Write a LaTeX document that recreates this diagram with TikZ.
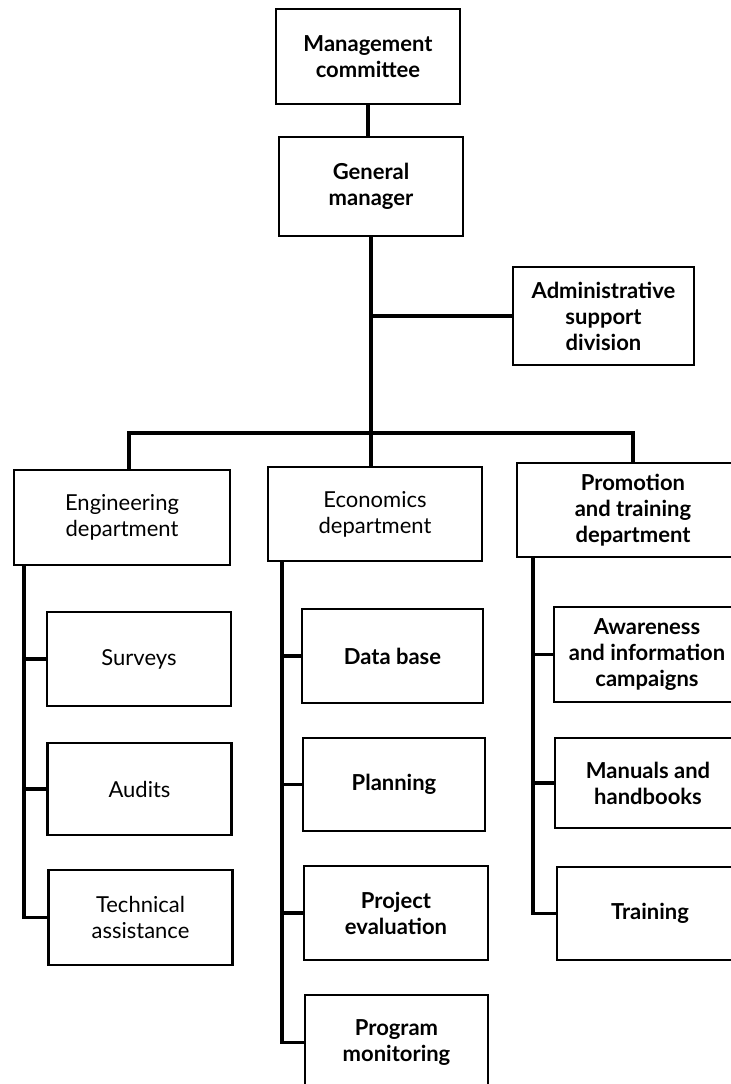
\documentclass[tikz,border=0pt]{standalone}
\usepackage{fontspec}
\setmainfont{Lato}
\begin{document}
\begin{tikzpicture}[x=0.5pt, y=-0.5pt,
    unit/.style={draw, line width=1.2pt, align=center, inner sep=0pt,
        minimum width=92pt, minimum height=47pt,
        font=\bfseries\fontsize{11}{13}\selectfont},
    plainunit/.style={unit, font=\fontsize{11}{13}\selectfont},
    link/.style={line width=1.8pt}]
    \clip (0,0) rectangle (731,1084);

    % head of the chart
    \node[unit, minimum height=47.5pt] (committee) at (368,56.5) {Management\\committee};
    \node[unit, minimum height=49.5pt] (manager) at (371,186.5) {General\\manager};
    \node[unit, minimum width=90.5pt, minimum height=49pt] (admin) at (603.5,316) {Administrative\\support\\division};

    % departments
    \node[plainunit, minimum width=108pt, minimum height=47.5pt] (eng) at (122,517.5) {Engineering\\department};
    \node[plainunit, minimum width=107pt] (econ) at (375,514) {Economics\\department};
    \node[unit, minimum width=116pt] (promo) at (633,510) {Promotion\\and training\\department};

    % engineering units
    \node[plainunit] (surveys) at (139,659) {Surveys};
    \node[plainunit, minimum height=46pt] (audits) at (139.5,789) {Audits};
    \node[plainunit, minimum height=47.5pt] (tech) at (140.5,917.5) {Technical\\assistance};

    % economics units
    \node[unit, minimum width=90.5pt] (database) at (392.5,656) {Data base};
    \node[unit, minimum width=91pt, minimum height=46.5pt] (planning) at (394,784.5) {Planning};
    \node[unit] (evaluation) at (396,913) {Project\\evaluation};
    \node[unit, minimum width=91.5pt, minimum height=47.5pt] (monitoring) at (396.5,1042.5) {Program\\monitoring};

    % promotion units
    \node[unit, minimum width=93pt, minimum height=47.5pt] (awareness) at (647,654.5) {Awareness\\and information\\campaigns};
    \node[unit, minimum width=93pt, minimum height=45pt] (manuals) at (648,783) {Manuals and\\handbooks};
    \node[unit, minimum width=93pt, minimum height=46.5pt] (training) at (650,913.5) {Training};

    % connectors
    \coordinate (bus) at (375,433);
    \coordinate (engtrunk) at ([xshift=5.5pt]eng.south west);
    \coordinate (econtrunk) at ([xshift=7.5pt]econ.south west);
    \coordinate (promotrunk) at ([xshift=8.5pt]promo.south west);

    \draw[link] (committee.south) -- (committee.south |- manager.north);
    \draw[link] (manager.south) -- (manager.south |- econ.north);
    \draw[link] (manager.south |- admin.west) -- (admin.west);
    \draw[link] ([xshift=3.5pt]eng.north) |- (bus) -| (promo.north);

    \draw[link] (engtrunk) |- (tech.west);
    \draw[link] (engtrunk |- surveys.west) -- (surveys.west);
    \draw[link] (engtrunk |- audits.west) -- (audits.west);

    \draw[link] (econtrunk) |- (monitoring.west);
    \draw[link] (econtrunk |- database.west) -- (database.west);
    \draw[link] (econtrunk |- planning.west) -- (planning.west);
    \draw[link] (econtrunk |- evaluation.west) -- (evaluation.west);

    \draw[link] (promotrunk) |- (training.west);
    \draw[link] (promotrunk |- awareness.west) -- (awareness.west);
    \draw[link] (promotrunk |- manuals.west) -- (manuals.west);
\end{tikzpicture}
\end{document}
